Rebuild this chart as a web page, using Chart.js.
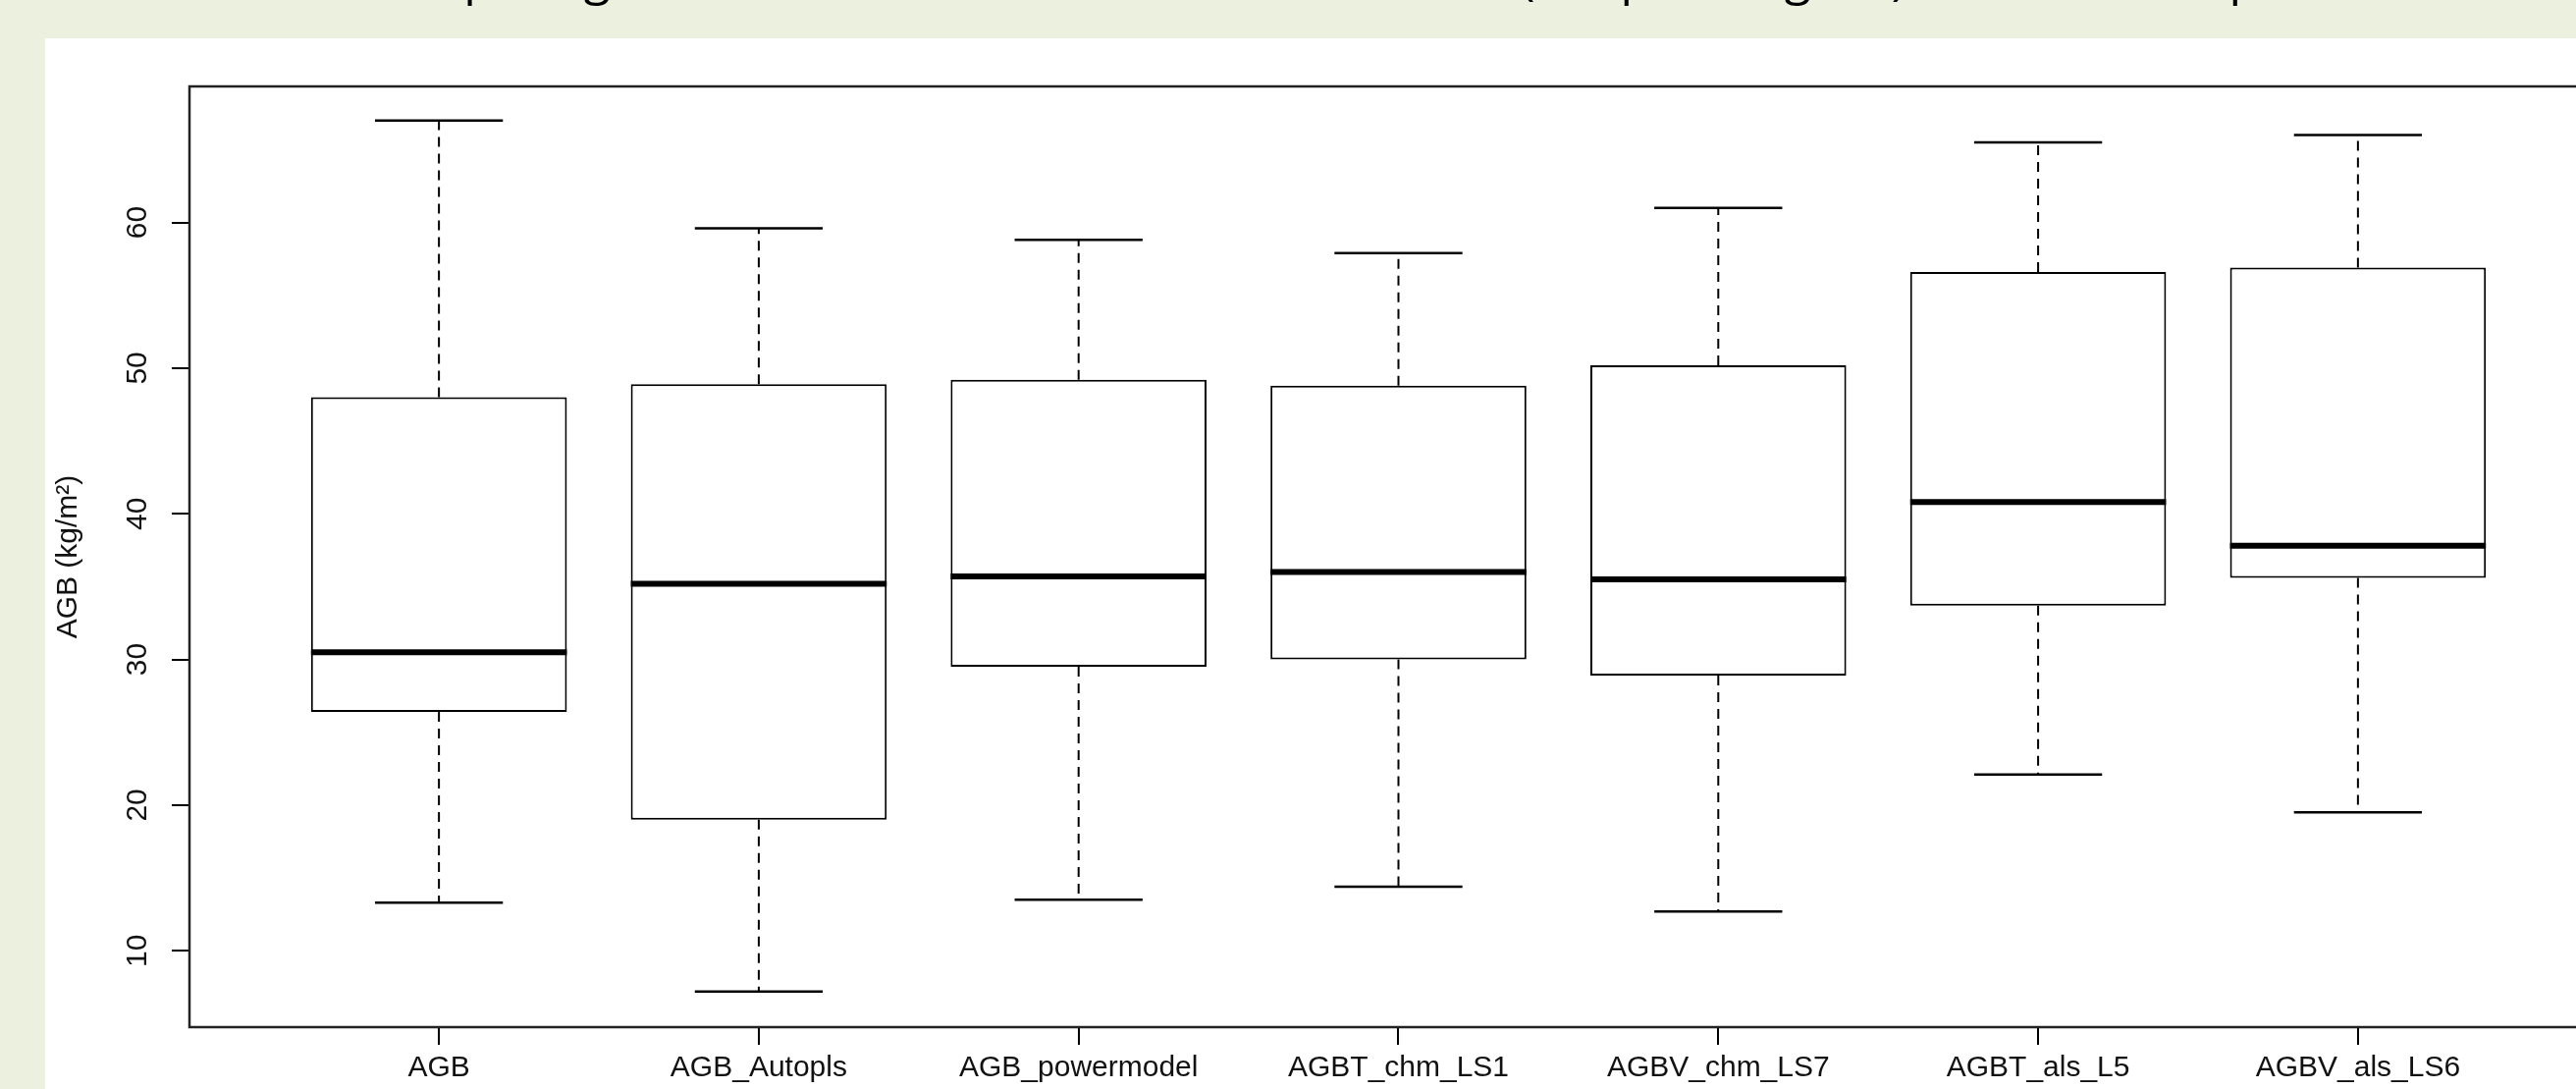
<!DOCTYPE html>
<html>
<head>
<meta charset="utf-8">
<script src="https://cdn.jsdelivr.net/npm/chart.js@4.4.1/dist/chart.umd.min.js"></script>
<style>
  html, body { margin: 0; padding: 0; width: 2624px; height: 1109px; overflow: hidden; background: #ebf1de; }
  #slideTitle {
    position: absolute; left: 250px; top: -50px; width: 2250px; text-align: center;
    font-family: 'Open Sans', sans-serif; font-size: 50px; line-height: 50px; color: #000; white-space: nowrap;
  }
  #panel { position: absolute; left: 46px; top: 39px; right: 0; bottom: 0; background: #fff; }
  #chartBox { position: absolute; left: 46px; top: 39px; width: 2640px; height: 1070px; }
</style>
</head>
<body>
<div id="slideTitle">Comparing AGB estimates from different methods (boxplots, kg/m²) with the field plots</div>
<div id="panel"></div>
<div id="chartBox"><canvas id="boxGraph"></canvas></div>

<script>
// values, one entry per box
const categories = ["AGB", "AGB_Autopls", "AGB_powermodel", "AGBT_chm_LS1", "AGBV_chm_LS7", "AGBT_als_L5", "AGBV_als_LS6"]
const whiskerLow = [13.3, 7.2, 13.5, 14.4, 12.7, 22.1, 19.5]
const quartile1 = [26.4, 19.0, 29.5, 30.0, 28.9, 33.7, 35.6]
const medians = [30.5, 35.2, 35.7, 36.0, 35.5, 40.8, 37.8]
const quartile3 = [48.0, 48.9, 49.2, 48.8, 50.2, 56.6, 56.9]
const whiskerHigh = [67.0, 59.6, 58.8, 57.9, 61.0, 65.5, 66.0]
const yTicks = [10, 20, 30, 40, 50, 60]

const fontFamily = "'Liberation Sans', Arial, sans-serif"
let boxGraph

window.onload = init

function init() {
  initChart()
}

// whiskers, caps and the thick median line, on top of the floating bars
const boxPartsPlugin = {
  id: 'boxParts',
  afterDatasetsDraw(chart) {
    const ctx = chart.ctx
    const xs = chart.scales.x
    const ys = chart.scales.y
    const bars = chart.getDatasetMeta(0).data
    ctx.save()
    ctx.strokeStyle = '#000'
    categories.forEach((c, i) => {
      const x = xs.getPixelForValue(i + 1)
      const half = bars[i].width / 2
      const capHalf = half / 2

      // dashed whiskers
      ctx.setLineDash([10, 7])
      ctx.lineWidth = 2
      ctx.beginPath()
      ctx.moveTo(x, ys.getPixelForValue(quartile3[i]))
      ctx.lineTo(x, ys.getPixelForValue(whiskerHigh[i]))
      ctx.moveTo(x, ys.getPixelForValue(quartile1[i]))
      ctx.lineTo(x, ys.getPixelForValue(whiskerLow[i]))
      ctx.stroke()

      // caps
      ctx.setLineDash([])
      ctx.lineWidth = 2.5
      ctx.beginPath()
      ctx.moveTo(x - capHalf, ys.getPixelForValue(whiskerHigh[i]))
      ctx.lineTo(x + capHalf, ys.getPixelForValue(whiskerHigh[i]))
      ctx.moveTo(x - capHalf, ys.getPixelForValue(whiskerLow[i]))
      ctx.lineTo(x + capHalf, ys.getPixelForValue(whiskerLow[i]))
      ctx.stroke()

      // median
      ctx.lineWidth = 6
      ctx.beginPath()
      ctx.moveTo(x - half, ys.getPixelForValue(medians[i]))
      ctx.lineTo(x + half, ys.getPixelForValue(medians[i]))
      ctx.stroke()
    })
    ctx.restore()
  },
  afterDraw(chart) {
    // R style frame round the plot region
    const a = chart.chartArea
    const ctx = chart.ctx
    ctx.save()
    ctx.strokeStyle = '#222'
    ctx.lineWidth = 2.5
    ctx.strokeRect(a.left, a.top, a.right - a.left, a.bottom - a.top)
    ctx.restore()
  }
}

function initChart() {
  boxGraph = new Chart(document.getElementById("boxGraph"), {
    type: 'bar',
    data: {
      datasets: [{
        label: 'AGB',
        data: categories.map((c, i) => ({ x: i + 1, y: [quartile1[i], quartile3[i]] })),
        backgroundColor: '#fff',
        borderColor: '#000',
        borderWidth: 2,
        borderSkipped: false,
        categoryPercentage: 1,
        barPercentage: 0.8
      }]
    },
    options: {
      responsive: true,
      maintainAspectRatio: false,
      animation: false,
      layout: { padding: { left: 0, top: 49, right: 30, bottom: 0 } },
      plugins: {
        legend: { display: false },
        tooltip: { enabled: false },
        title: { display: false }
      },
      scales: {
        x: {
          type: 'linear',
          offset: false,
          min: 0.22,
          max: 7.78,
          afterBuildTicks: scale => { scale.ticks = categories.map((c, i) => ({ value: i + 1 })) },
          afterFit: scale => { scale.height = 63 },
          grid: { drawOnChartArea: false, drawTicks: true, tickLength: 18, color: '#000', lineWidth: 2, offset: false },
          border: { display: false },
          ticks: {
            autoSkip: false,
            maxRotation: 0,
            padding: 6,
            color: '#111',
            font: { family: fontFamily, size: 30 },
            callback: value => categories[value - 1]
          }
        },
        y: {
          min: 4.76,
          max: 69.34,
          afterBuildTicks: scale => { scale.ticks = yTicks.map(v => ({ value: v })) },
          afterFit: scale => { scale.width = 147 },
          grid: { drawOnChartArea: false, drawTicks: true, tickLength: 18, color: '#000', lineWidth: 2 },
          border: { display: false },
          ticks: {
            minRotation: 90,
            maxRotation: 90,
            crossAlign: 'center',
            padding: 18,
            color: '#111',
            font: { family: fontFamily, size: 30 }
          },
          title: {
            display: true,
            text: 'AGB (kg/m²)',
            color: '#111',
            font: { family: fontFamily, size: 30 },
            padding: { top: 6, bottom: 0 }
          }
        }
      }
    },
    plugins: [boxPartsPlugin]
  });
}
</script>
</body>
</html>
